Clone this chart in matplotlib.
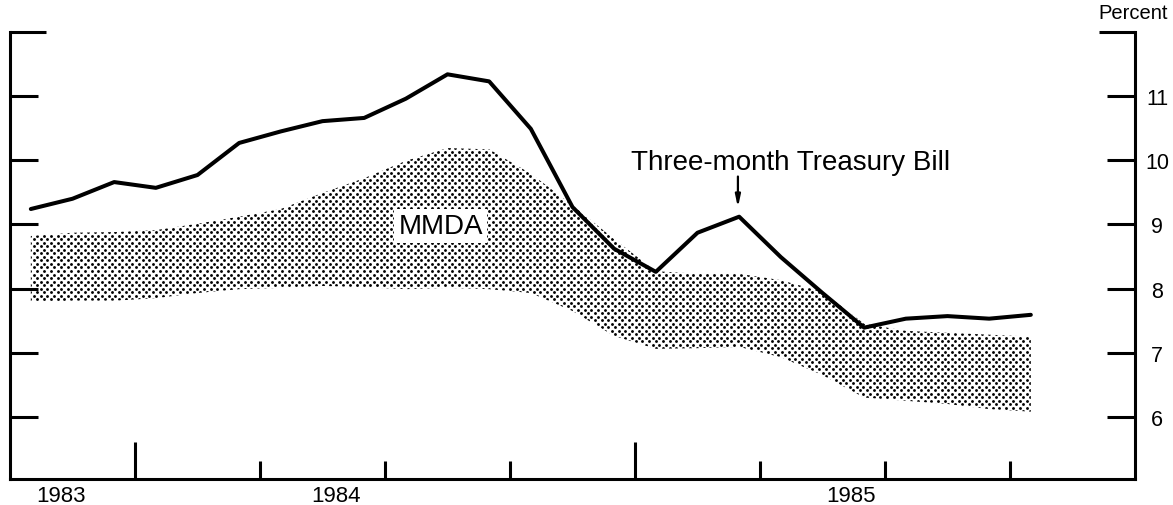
import numpy as np
from matplotlib import pyplot as plt
from matplotlib.patches import Polygon

plt.rcParams['font.family'] = ['Liberation Sans', 'DejaVu Sans']

# monthly points, Jan 1983 .. Jan 1985 (x = month index, 0.5 = middle of first month)
months = np.arange(25) + 0.5

tbill = [9.24, 9.40, 9.66, 9.57, 9.77, 10.27, 10.45, 10.61, 10.66, 10.96,
         11.34, 11.23, 10.49, 9.27, 8.62, 8.26, 8.87, 9.12, 8.49, 7.93,
         7.39, 7.53, 7.57, 7.53, 7.59]

# MMDA range, upper and lower edge of the dotted band
mmda_high = [8.82, 8.87, 8.88, 8.91, 9.01, 9.12, 9.24, 9.49, 9.72, 9.99,
             10.19, 10.17, 9.79, 9.30, 8.77, 8.27, 8.23, 8.23, 8.13, 7.95,
             7.45, 7.34, 7.31, 7.28, 7.25]
mmda_low = [7.79, 7.81, 7.81, 7.85, 7.93, 7.99, 8.01, 8.04, 8.02, 7.99,
            8.01, 7.99, 7.93, 7.65, 7.26, 7.06, 7.07, 7.09, 6.93, 6.65,
            6.30, 6.25, 6.20, 6.12, 6.08]

y_ticks = [6, 7, 8, 9, 10, 11]
year_labels = ['1983', '1984', '1985']
year_pos = [1.22, 7.82, 20.18]

fig = plt.figure(figsize=(11.73, 5.06), dpi=100)
ax = fig.add_axes([10 / 1173, 26 / 506, 1125 / 1173, 447 / 506])
ax.set_xlim(0, 27)
ax.set_ylim(5.03, 12.0)

# dotted band: staggered dot grid clipped to the band outline
band = Polygon(list(zip(months, mmda_high)) + list(zip(months[::-1], mmda_low[::-1])),
               closed=True, facecolor='none', edgecolor='none')
ax.add_patch(band)
dx = 6.8 / 41.67
dy = 3.5 / 64.1
gx, gy = [], []
row = 0
yy = min(mmda_low) - 0.1
while yy < max(mmda_high) + 0.1:
    off = dx / 2 if row % 2 else 0
    xs = np.arange(0, 27, dx) + off
    gx.extend(xs)
    gy.extend([yy] * len(xs))
    yy += dy
    row += 1
dots = ax.scatter(gx, gy, s=4.2, c='black', linewidths=0, zorder=2)
dots.set_clip_path(band)

ax.plot(months, tbill, color='black', lw=2.9, solid_capstyle='round',
        solid_joinstyle='round', zorder=3)

ax.text(10.34, 8.975, 'MMDA', fontsize=20, ha='center', va='center', zorder=4,
        bbox=dict(facecolor='white', edgecolor='none', pad=3))
ax.text(18.74, 9.97, 'Three-month Treasury Bill', fontsize=20, ha='center', va='center')
ax.annotate('', xy=(17.47, 9.22), xytext=(17.47, 9.79),
            arrowprops=dict(arrowstyle='-|>,head_length=0.7,head_width=0.15',
                            color='black', lw=1.6))

# spines
ax.spines['top'].set_visible(False)
for side in ['left', 'right', 'bottom']:
    ax.spines[side].set_linewidth(2.2)

# y ticks: inside, both sides, labels right
ax.set_yticks(y_ticks)
ax.set_yticks([12], minor=True)
ax.tick_params(axis='y', which='both', direction='in', left=True, right=True,
               labelleft=False, labelright=True, width=2.2)
ax.tick_params(axis='y', which='major', length=20, pad=16, labelsize=15.5)
ax.tick_params(axis='y', which='minor', length=26)
for lab in ax.get_yticklabels():
    lab.set_horizontalalignment('center')

# x ticks: quarters, taller at 3 and 15
ax.set_xticks([3, 15])
ax.set_xticks([6, 9, 12, 18, 21, 24], minor=True)
ax.tick_params(axis='x', which='both', direction='in', top=False, width=2.2,
               labelbottom=False)
ax.tick_params(axis='x', which='major', length=26.6)
ax.tick_params(axis='x', which='minor', length=13)

for lab, xp in zip(year_labels, year_pos):
    ax.text(xp, -0.036, lab, fontsize=16, ha='center', va='center',
            transform=ax.get_xaxis_transform())

ax.text(1.0293, 1.0447, 'Percent', fontsize=14.5, ha='right', va='center',
        transform=ax.transAxes, clip_on=False)

plt.savefig('out.png', dpi=100)
